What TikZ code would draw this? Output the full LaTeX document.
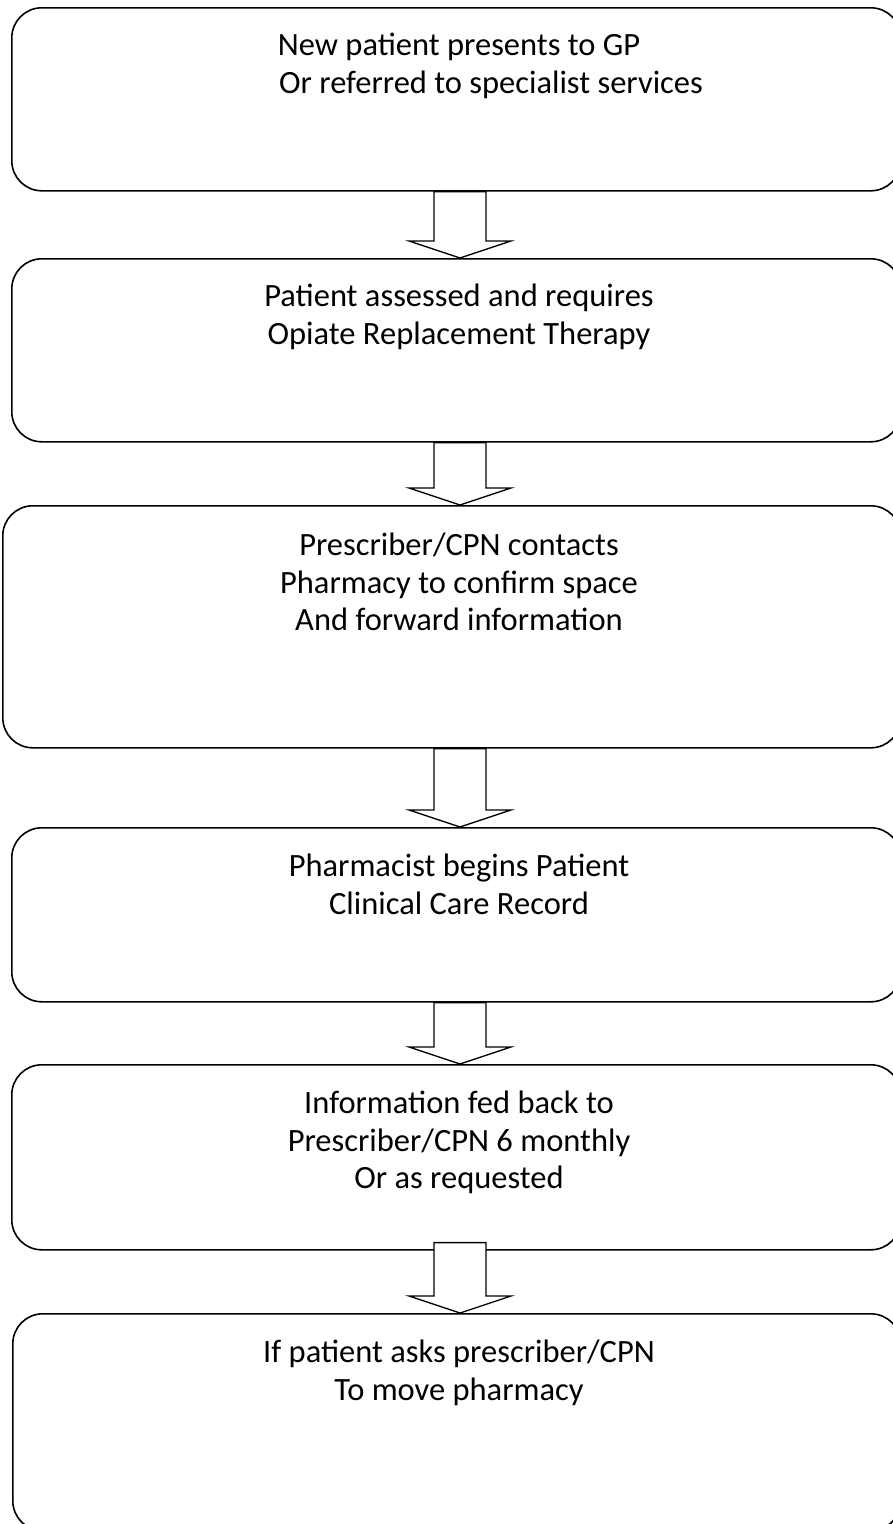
\documentclass[tikz,border=0pt]{standalone}
\usepackage{fontspec}
\setmainfont{Carlito}
\usetikzlibrary{calc}
\tikzset{
  box/.style={draw=black, line width=1.6pt, rounded corners=30pt, anchor=north west, inner sep=0pt},
  txt/.style={anchor=north, align=center, inner sep=0pt, font=\fontsize{32.5}{37.5}\selectfont},
  blockarrow/.style={draw=black, fill=white, line width=1.3pt, line join=miter}
}
\newcommand{\flowarrow}[3]{%
  \draw[blockarrow] let \p1=(#1.south -| ax), \p2=(#2.north -| ax) in
    (\x1-26pt,\y1+#3) -- (\x1-26pt,\y2+17pt) -- (\x1-51pt,\y2+17pt) -- (\x2,\y2)
    -- (\x1+51pt,\y2+17pt) -- (\x1+26pt,\y2+17pt) -- (\x1+26pt,\y1+#3) -- cycle;}
\begin{document}
\begin{tikzpicture}[x=1pt,y=1pt]
\useasboundingbox (0,0) rectangle (893,-1524);
\fill[white] (0,0) rectangle (893,-1524);
\coordinate (ax) at (460,0);
\coordinate (tx) at (459,0);
% boxes
\node[box, minimum width=889pt, minimum height=183pt] (b1) at (11,-7) {};
\node[box, minimum width=889pt, minimum height=183pt] (b2) at (11,-258) {};
\node[box, minimum width=898pt, minimum height=242pt] (b3) at (2,-505) {};
\node[box, minimum width=889pt, minimum height=174pt] (b4) at (11,-827) {};
\node[box, minimum width=889pt, minimum height=185pt] (b5) at (11,-1064) {};
\node[box, minimum width=888pt, minimum height=217pt] (b6) at (12,-1313) {};
% texts
\node[txt] (t1) at ([yshift=-26pt]b1.north -| tx) {New patient presents to GP\\\hspace*{64pt}Or referred to specialist services};
\node[txt] (t2) at ([yshift=-26pt]b2.north -| tx) {Patient assessed and requires\\Opiate Replacement Therapy};
\node[txt] (t3) at ([yshift=-28pt]b3.north -| tx) {Prescriber/CPN contacts\\Pharmacy to confirm space\\And forward information};
\node[txt] (t4) at ([yshift=-27pt]b4.north -| tx) {Pharmacist begins Patient\\Clinical Care Record};
\node[txt] (t5) at ([yshift=-27pt]b5.north -| tx) {Information fed back to\\Prescriber/CPN 6 monthly\\Or as requested};
\node[txt] (t6) at ([yshift=-27pt]b6.north -| tx) {If patient asks prescriber/CPN\\To move pharmacy};
% arrows
\flowarrow{b1}{b2}{0pt}
\flowarrow{b2}{b3}{0pt}
\flowarrow{b3}{b4}{0pt}
\flowarrow{b4}{b5}{0pt}
\flowarrow{b5}{b6}{8pt}
\end{tikzpicture}
\end{document}
